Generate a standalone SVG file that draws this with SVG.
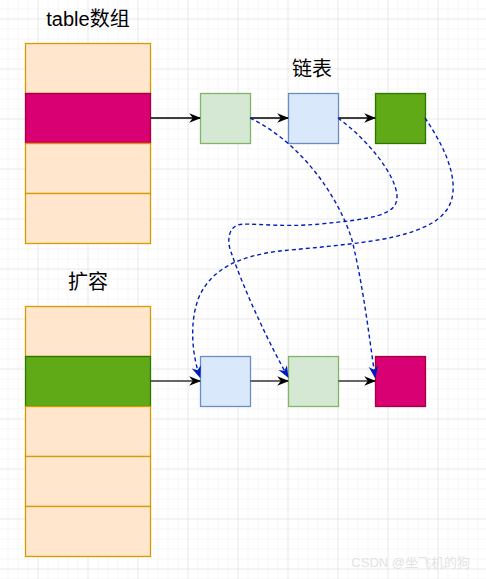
<svg xmlns="http://www.w3.org/2000/svg" width="486" height="579" viewBox="0 0 486 579">
<defs>
<pattern id="minor" patternUnits="userSpaceOnUse" x="7.5" y="8.5" width="10" height="10">
<path d="M0,0 H10 M0,0 V10" fill="none" stroke="#efefef" stroke-width="1"/>
</pattern>
<pattern id="major" patternUnits="userSpaceOnUse" x="37.5" y="18.5" width="50" height="50">
<path d="M0,0 H50 M0,0 V50" fill="none" stroke="#dddddd" stroke-width="1"/>
</pattern>
<marker id="arrBlack" viewBox="0 0 10 10" refX="9" refY="5" markerWidth="12" markerHeight="12" markerUnits="userSpaceOnUse" orient="auto">
<path d="M0,1 L10,5 L0,9 L3,5 z" fill="#000"/>
</marker>
<marker id="arrBlue" viewBox="0 0 10 10" refX="9" refY="5" markerWidth="12" markerHeight="12" markerUnits="userSpaceOnUse" orient="auto">
<path d="M0,1 L10,5 L0,9 L3,5 z" fill="#001DBC"/>
</marker>
</defs>
<style>
.orange{fill:#ffe6cc;stroke:#d79b00;stroke-width:1.3}
.pink{fill:#d80073;stroke:#a50040;stroke-width:1.3}
.dgreen{fill:#60a917;stroke:#2d7600;stroke-width:1.3}
.lgreen{fill:#d5e8d4;stroke:#82b366;stroke-width:1.3}
.lblue{fill:#dae8fc;stroke:#6c8ebf;stroke-width:1.3}
.lbl{font-family:"Liberation Sans","Noto Sans CJK SC",sans-serif;font-size:20px;fill:#000;text-anchor:middle}
.solid{fill:none;stroke:#000;stroke-width:1.3;marker-end:url(#arrBlack)}
.solid2{fill:none;stroke:#333;stroke-width:1.3;marker-end:url(#arrBlack)}
.dash{fill:none;stroke:#001DBC;stroke-width:1.4;stroke-dasharray:4 3;marker-end:url(#arrBlue)}
</style>
<rect width="486" height="579" fill="#fff"/>
<rect width="486" height="579" fill="url(#minor)"/>
<rect width="486" height="579" fill="url(#major)"/>

<g id="table-title"><text class="lbl" x="88" y="26">table数组</text></g>
<g id="table">
<rect class="orange" x="25.5" y="43.5" width="125" height="50"/>
<rect class="pink" x="25.5" y="93.5" width="125" height="50"/>
<rect class="orange" x="25.5" y="143.5" width="125" height="50"/>
<rect class="orange" x="25.5" y="193.5" width="125" height="50"/>
</g>

<g id="list-title"><text class="lbl" x="312" y="76">链表</text></g>
<g id="n1"><rect class="lgreen" x="200.5" y="93.5" width="50" height="50"/></g>
<g id="n2"><rect class="lblue" x="288.5" y="93.5" width="50" height="50"/></g>
<g id="n3"><rect class="dgreen" x="375.5" y="93.5" width="50" height="50"/></g>

<g id="resize-title"><text class="lbl" x="88" y="289">扩容</text></g>
<g id="table2">
<rect class="orange" x="25.5" y="306.5" width="125" height="50"/>
<rect class="dgreen" x="25.5" y="356.5" width="125" height="50"/>
<rect class="orange" x="25.5" y="406.5" width="125" height="50"/>
<rect class="orange" x="25.5" y="456.5" width="125" height="50"/>
<rect class="orange" x="25.5" y="506.5" width="125" height="50"/>
</g>

<g id="m1"><rect class="lblue" x="200.5" y="356.5" width="50" height="50"/></g>
<g id="m2"><rect class="lgreen" x="288.5" y="356.5" width="50" height="50"/></g>
<g id="m3"><rect class="pink" x="375.5" y="356.5" width="50" height="50"/></g>

<g id="connectors">
<path class="solid" d="M150.5,118 H200"/>
<path class="solid" d="M250.5,118 H288"/>
<path class="solid" d="M338.5,118 H375"/>
<path class="solid2" d="M150.5,381 H200"/>
<path class="solid2" d="M250.5,381 H288"/>
<path class="solid2" d="M338.5,381 H375"/>
<path class="dash" d="M250,118 C300,142 338,195 352,240 C363,285 369,335 375,377"/>
<path class="dash" d="M338,118 C368,140 396,175 397,196 C398,216 370,219 320,224 C280,228 248,222 238,225 C228,228 227,242 231,252 C246,295 270,345 288,377"/>
<path class="dash" d="M425,118 C440,140 455,168 453,192 C451,215 432,226 405,234 C375,243 320,247 280,251 C240,256 212,268 199,297 C189,322 192,355 200,377"/>
</g>

<g id="watermark"><text x="470" y="567" text-anchor="end" font-family="Liberation Sans,'Noto Sans CJK SC',sans-serif" font-size="13" fill="#e3e3e3">CSDN @坐飞机的狗</text></g>
</svg>
